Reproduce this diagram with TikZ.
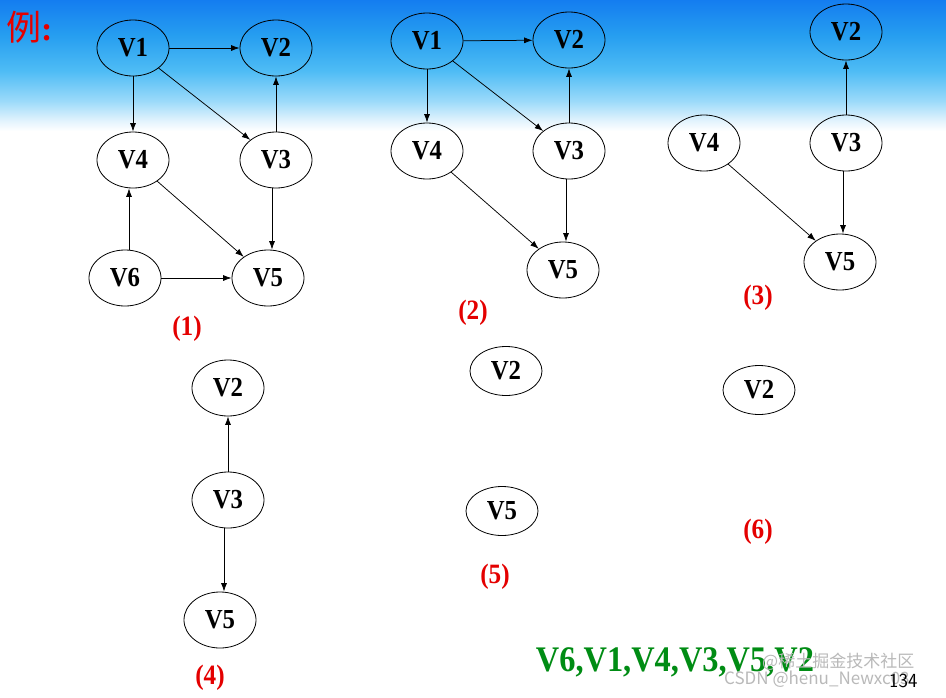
\documentclass[tikz,border=0pt]{standalone}
\usepackage{fontspec}
\setmainfont{Liberation Serif}
\newfontfamily\condserif[FakeStretch=0.9]{Liberation Serif}
\newfontfamily\cjk{Noto Sans CJK SC}
\usetikzlibrary{shapes.geometric,arrows.meta,calc}
\definecolor{skyA}{RGB}{20,125,240}
\definecolor{skyB}{RGB}{38,158,240}
\definecolor{skyC}{RGB}{78,188,245}
\definecolor{skyD}{RGB}{155,218,250}
\definecolor{skyE}{RGB}{226,243,253}
\definecolor{labred}{RGB}{228,0,0}
\definecolor{ordgreen}{RGB}{0,140,20}
\definecolor{wmgray}{RGB}{185,185,185}
\pgfdeclareverticalshading{skyfade}{100bp}{%
  color(0bp)=(white); color(25bp)=(white); color(29bp)=(skyE);
  color(36.5bp)=(skyD); color(48bp)=(skyC); color(61.5bp)=(skyB);
  color(75bp)=(skyA); color(100bp)=(skyA)}
\tikzset{
  vnode/.style={ellipse, draw, line width=0.8pt, minimum width=72pt,
    minimum height=56pt, inner sep=0pt,
    font=\condserif\fontsize{27.5}{30}\selectfont\bfseries},
  vsmall/.style={vnode, minimum height=49pt},
  arr/.style={-{Latex[length=8.5pt,width=6pt]}, line width=0.75pt},
  lab/.style={text=labred, font=\condserif\fontsize{28}{30}\selectfont\bfseries},
}
\begin{document}
\begin{tikzpicture}[x=1pt,y=-1pt]
\useasboundingbox (0,0) rectangle (946,697);
\fill[white] (0,0) rectangle (946,697);
\shade[shading=skyfade] (0,0) rectangle (946,131);

% title
\node[anchor=west, inner sep=0pt, text=labred] (title) at (6,27)
  {\cjk\fontsize{35}{40}\selectfont 例\fontsize{34}{40}\selectfont\rmfamily\bfseries :};

% graph (1)
\node[vnode] (a1) at (133,48) {V1};
\node[vnode] (a2) at (276,48) {V2};
\node[vnode] (a4) at (133,160) {V4};
\node[vnode] (a3) at (276,160) {V3};
\node[vnode] (a6) at (125,278) {V6};
\node[vnode] (a5) at (268,278) {V5};
\node[lab] (l1) at (187,329) {(1)};
\draw[arr] (a1) -- (a2);
\draw[arr] (a1) -- (a4);
\draw[arr] (a1) -- (a3);
\draw[arr] (a3) -- (a2);
\draw[arr] (a4) -- (a5);
\draw[arr] (a6) -- (a5);
\coordinate (m1) at ($(a3.south)!0.5!(a5.north)$);
\draw[arr] (m1 |- a3.south) -- (m1 |- a5.north);
\coordinate (m2) at ($(a6.north)!0.5!(a4.south)$);
\draw[arr] (m2 |- a6.north) -- (m2 |- a4.south);

% graph (2)
\node[vnode] (b1) at (427,41) {V1};
\node[vnode] (b2) at (569,40) {V2};
\node[vnode] (b4) at (427,151) {V4};
\node[vnode] (b3) at (569,151) {V3};
\node[vnode] (b5) at (563,270) {V5};
\node[lab] (l2) at (473,313) {(2)};
\draw[arr] (b1) -- (b2);
\draw[arr] (b1) -- (b4);
\draw[arr] (b1) -- (b3);
\draw[arr] (b3) -- (b2);
\draw[arr] (b4) -- (b5);
\coordinate (m3) at ($(b3.south)!0.5!(b5.north)$);
\draw[arr] (m3 |- b3.south) -- (m3 |- b5.north);

% graph (3)
\node[vnode] (c2) at (846,32) {V2};
\node[vnode] (c4) at (704,143) {V4};
\node[vnode] (c3) at (846,143) {V3};
\node[vnode] (c5) at (840,262) {V5};
\node[lab] (l3) at (758,298) {(3)};
\draw[arr] (c3) -- (c2);
\draw[arr] (c4) -- (c5);
\coordinate (m4) at ($(c3.south)!0.5!(c5.north)$);
\draw[arr] (m4 |- c3.south) -- (m4 |- c5.north);

% graph (4)
\node[vnode] (d2) at (228,388) {V2};
\node[vnode] (d3) at (228,500) {V3};
\node[vnode] (d5) at (220,620) {V5};
\node[lab] (l4) at (210,678) {(4)};
\draw[arr] (d3) -- (d2);
\coordinate (m5) at ($(d3.south)!0.5!(d5.north)$);
\draw[arr] (m5 |- d3.south) -- (m5 |- d5.north);

% graph (5)
\node[vsmall] (e2) at (506,371) {V2};
\node[vsmall] (e5) at (502,511) {V5};
\node[lab] (l5) at (495,577) {(5)};

% graph (6)
\node[vsmall] (f2) at (759,390) {V2};
\node[lab] (l6) at (758,532) {(6)};

% result order
\node[text=ordgreen, font=\condserif\fontsize{36}{40}\selectfont\bfseries] (ord) at (675,662) {V6,V1,V4,V3,V5,V2};

% watermark and page number
\node[text=wmgray, font=\cjk\fontsize{17}{20}\selectfont, anchor=west, inner sep=0pt] (wm1) at (762,662) {@稀土掘金技术社区};
\node[text=wmgray, font=\cjk\fontsize{17}{20}\selectfont, anchor=west, inner sep=0pt] (wm2) at (724,679) {CSDN @henu\_Newxc03};
\node[font=\fontfamily{lmss}\fontsize{20}{24}\selectfont, anchor=west, inner sep=0pt] (pg) at (889,681) {134};
\end{tikzpicture}
\end{document}
